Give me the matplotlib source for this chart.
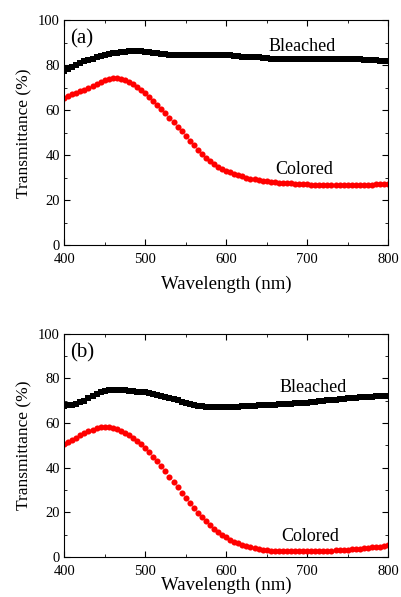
import matplotlib
matplotlib.use("Agg")
import matplotlib.pyplot as plt
from matplotlib.ticker import MultipleLocator

plt.rcParams['font.family'] = ['Liberation Serif', 'DejaVu Serif']

# wavelength grid (nm), 5 nm steps
wavelength = list(range(400, 801, 5))

# panel (a)
bleached_a = [77.5, 78.5, 79.3, 80.2, 81.0, 81.7, 82.4, 83.0, 83.6, 84.1,
              84.6, 85.0, 85.3, 85.6, 85.9, 86.1, 86.3, 86.4, 86.4, 86.3,
              86.1, 85.9, 85.6, 85.3, 85.1, 84.9, 84.8, 84.8, 84.8, 84.8,
              84.8, 84.8, 84.8, 84.8, 84.8, 84.8, 84.8, 84.8, 84.7, 84.7,
              84.6, 84.4, 84.2, 84.0, 83.9, 83.8, 83.7, 83.6, 83.5, 83.3,
              83.2, 83.0, 82.9, 82.8, 82.7, 82.7, 82.7, 82.6, 82.6, 82.6,
              82.6, 82.6, 82.6, 82.6, 82.7, 82.7, 82.7, 82.7, 82.7, 82.7,
              82.7, 82.7, 82.7, 82.6, 82.5, 82.4, 82.3, 82.2, 82.0, 81.9,
              81.8]
colored_a = [65.5, 66.3, 67.1, 67.8, 68.5, 69.2, 70.0, 70.8, 71.7, 72.6,
             73.4, 74.0, 74.3, 74.3, 74.0, 73.5, 72.7, 71.7, 70.5, 69.1,
             67.6, 66.0, 64.3, 62.5, 60.6, 58.6, 56.6, 54.6, 52.6, 50.6,
             48.6, 46.5, 44.5, 42.5, 40.7, 39.0, 37.5, 36.2, 35.0, 34.0,
             33.1, 32.4, 31.7, 31.1, 30.6, 30.1, 29.7, 29.3, 29.0, 28.7,
             28.5, 28.3, 28.1, 27.9, 27.8, 27.6, 27.5, 27.4, 27.3, 27.2,
             27.1, 27.0, 27.0, 26.9, 26.9, 26.8, 26.8, 26.8, 26.7, 26.7,
             26.7, 26.7, 26.7, 26.8, 26.8, 26.9, 27.0, 27.1, 27.2, 27.3,
             27.4]

# panel (b)
bleached_b = [67.8, 67.9, 68.1, 68.5, 69.2, 70.0, 71.0, 72.0, 73.0, 73.8,
              74.4, 74.7, 74.8, 74.8, 74.7, 74.6, 74.5, 74.3, 74.1, 73.9,
              73.7, 73.4, 73.1, 72.7, 72.3, 71.8, 71.3, 70.7, 70.1, 69.5,
              69.0, 68.5, 68.1, 67.8, 67.5, 67.3, 67.2, 67.1, 67.1, 67.1,
              67.2, 67.2, 67.3, 67.4, 67.5, 67.6, 67.7, 67.8, 67.9, 68.0,
              68.1, 68.2, 68.3, 68.4, 68.5, 68.6, 68.7, 68.8, 68.9, 69.0,
              69.1, 69.3, 69.5, 69.7, 69.9, 70.1, 70.3, 70.5, 70.7, 70.9,
              71.1, 71.3, 71.4, 71.5, 71.6, 71.7, 71.8, 71.9, 72.0, 72.0,
              72.0]
colored_b = [50.6, 51.5, 52.5, 53.5, 54.5, 55.5, 56.4, 57.1, 57.6, 58.0,
             58.1, 58.0, 57.7, 57.2, 56.5, 55.6, 54.6, 53.4, 52.0, 50.5,
             48.8, 47.0, 45.0, 42.9, 40.7, 38.4, 36.0, 33.6, 31.2, 28.8,
             26.4, 24.1, 21.9, 19.8, 17.8, 15.9, 14.2, 12.6, 11.2, 9.9,
             8.8, 7.8, 6.9, 6.1, 5.4, 4.8, 4.3, 3.9, 3.6, 3.3,
             3.1, 2.9, 2.8, 2.7, 2.6, 2.5, 2.5, 2.5, 2.5, 2.5,
             2.5, 2.5, 2.6, 2.6, 2.7, 2.8, 2.9, 3.0, 3.1, 3.2,
             3.3, 3.4, 3.5, 3.7, 3.9, 4.1, 4.3, 4.5, 4.7, 4.9,
             5.2]

fig = plt.figure(figsize=(4.01, 5.97), dpi=100)
ax_a = fig.add_axes([0.160, 0.589, 0.808, 0.377])
ax_b = fig.add_axes([0.160, 0.067, 0.808, 0.374])

panels = [
    (ax_a, bleached_a, colored_a, '(a)', (652, 88.2), (661, 33.5), 7),
    (ax_b, bleached_b, colored_b, '(b)', (666, 75.7), (668, 9.3), -0.5),
]

for ax, bl, co, tag, bl_pos, co_pos, lpad in panels:
    ax.plot(wavelength, bl, 's', color='black', ms=4.2, mew=0)
    ax.plot(wavelength, co, 'o', color='red', ms=4.4, mew=0)
    ax.set_xlim(400, 800)
    ax.set_ylim(0, 100)
    ax.xaxis.set_major_locator(MultipleLocator(100))
    ax.xaxis.set_minor_locator(MultipleLocator(50))
    ax.yaxis.set_major_locator(MultipleLocator(20))
    ax.yaxis.set_minor_locator(MultipleLocator(10))
    ax.tick_params(which='both', direction='in', top=True, right=True,
                   labelsize=10.5)
    ax.tick_params(axis='x', pad=5.5)
    ax.tick_params(axis='y', pad=3)
    ax.tick_params(which='major', length=4)
    ax.tick_params(which='minor', length=2)
    ax.set_xlabel('Wavelength (nm)', fontsize=13.5, labelpad=lpad)
    ax.set_ylabel('Transmittance (%)', fontsize=12.5, labelpad=4)
    ax.text(407, 91.6, tag, fontsize=15, ha='left', va='center')
    ax.text(bl_pos[0], bl_pos[1], 'Bleached', fontsize=13, ha='left', va='center')
    ax.text(co_pos[0], co_pos[1], 'Colored', fontsize=13, ha='left', va='center')

fig.savefig('out.png', dpi=100)
